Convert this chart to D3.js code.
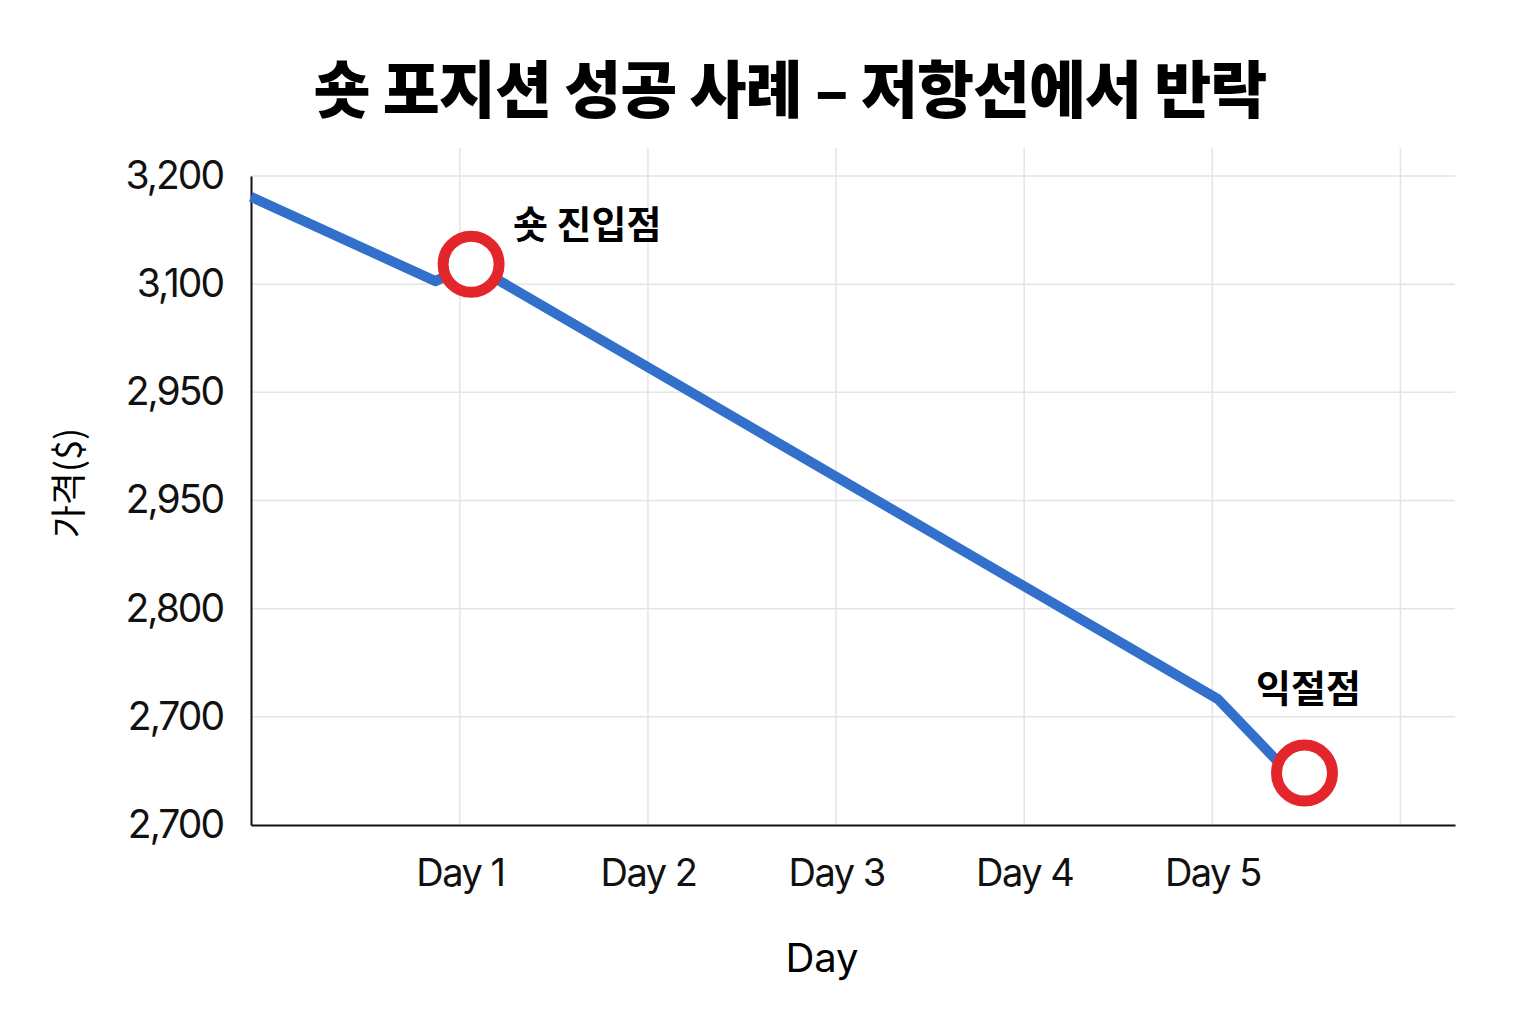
<!DOCTYPE html>
<html><head><meta charset="utf-8">
<script src="https://cdn.jsdelivr.net/npm/d3@7"></script>
<style>body{margin:0;background:#fff}svg{font-family:"Noto Sans CJK KR","Noto Sans",sans-serif}</style>
</head><body><svg id="c" width="1536" height="1024"></svg>
<script>
const yTickValues = [2700, 2783.33, 2866.67, 2950, 3033.33, 3116.67, 3200];
const yTickLabels = ["2,700","2,700","2,800","2,950","2,950","3,100","3,200"];
const xGridDays = [1,2,3,4,5,6];
const xTickLabels = ["Day 1","Day 2","Day 3","Day 4","Day 5",""];
const lineDays = [-0.11, 0.87, 1.06, 5.03, 5.36];
const linePrices = [3184, 3119, 3132, 2797, 2747];
const markerDays = [1.06, 5.49];
const markerPrices = [3132, 2740];
const markerLabels = ["숏 진입점", "익절점"];

const svg = d3.select("#c");
const L=251,R=1455,T=176,B=825;
const x = d3.scaleLinear().domain([-0.11,6.29]).range([L,R]);
const y = d3.scaleLinear().domain([2700,3200]).range([B,T]);

svg.append("text").attr("x",790).attr("y",113).attr("text-anchor","middle")
 .attr("font-size",62).attr("font-weight",900).attr("letter-spacing",-1).text("숏 포지션 성공 사례 – 저항선에서 반락");

const g = svg.append("g");
g.selectAll(".vg").data(xGridDays).join("line").attr("x1",d=>x(d)).attr("x2",d=>x(d))
 .attr("y1",148).attr("y2",B).attr("stroke","#e4e4e4").attr("stroke-width",1.5);
g.selectAll(".hg").data(yTickValues.slice(1)).join("line").attr("x1",L).attr("x2",R)
 .attr("y1",d=>y(d)).attr("y2",d=>y(d)).attr("stroke","#e4e4e4").attr("stroke-width",1.5);

const ya = svg.append("g").attr("transform",`translate(${L},0)`)
 .call(d3.axisLeft(y).tickValues(yTickValues).tickSize(0).tickPadding(28).tickFormat((d,i)=>yTickLabels[i]));
ya.select(".domain").attr("stroke","#111").attr("stroke-width",2);
ya.selectAll("text").attr("font-size",39).attr("fill","#111").attr("font-family","Inter, sans-serif").attr("letter-spacing",-2);

const xa = svg.append("g").attr("transform",`translate(0,${B})`)
 .call(d3.axisBottom(x).tickValues(xGridDays).tickSize(0).tickPadding(34).tickFormat((d,i)=>xTickLabels[i]));
xa.select(".domain").attr("stroke","#111").attr("stroke-width",2);
xa.selectAll("text").attr("font-size",38).attr("fill","#111").attr("font-family","Inter, sans-serif").attr("letter-spacing",-1.5);

svg.append("text").attr("x",822).attr("y",972).attr("text-anchor","middle").attr("font-size",40)
 .attr("font-family","Inter, sans-serif").text("Day");
svg.append("text").attr("transform","translate(82,483) rotate(-90)").attr("text-anchor","middle")
 .attr("font-size",36).text("가격($)");

const pts = lineDays.map((d,i)=>[x(d),y(linePrices[i])]);
svg.append("path").attr("d",d3.line()(pts)).attr("fill","none").attr("stroke","#3370cc")
 .attr("stroke-width",10).attr("stroke-linejoin","round");

svg.selectAll(".m").data(markerDays).join("circle").attr("cx",d=>x(d)).attr("cy",(d,i)=>y(markerPrices[i]))
 .attr("r",28).attr("fill","#fff").attr("stroke","#e3262b").attr("stroke-width",11);

const lp=[[513,238],[1256,702]];
svg.selectAll(".ml").data(markerLabels).join("text").attr("x",(d,i)=>lp[i][0]).attr("y",(d,i)=>lp[i][1])
 .attr("font-size",38).attr("font-weight",700).text(d=>d);
</script></body></html>
